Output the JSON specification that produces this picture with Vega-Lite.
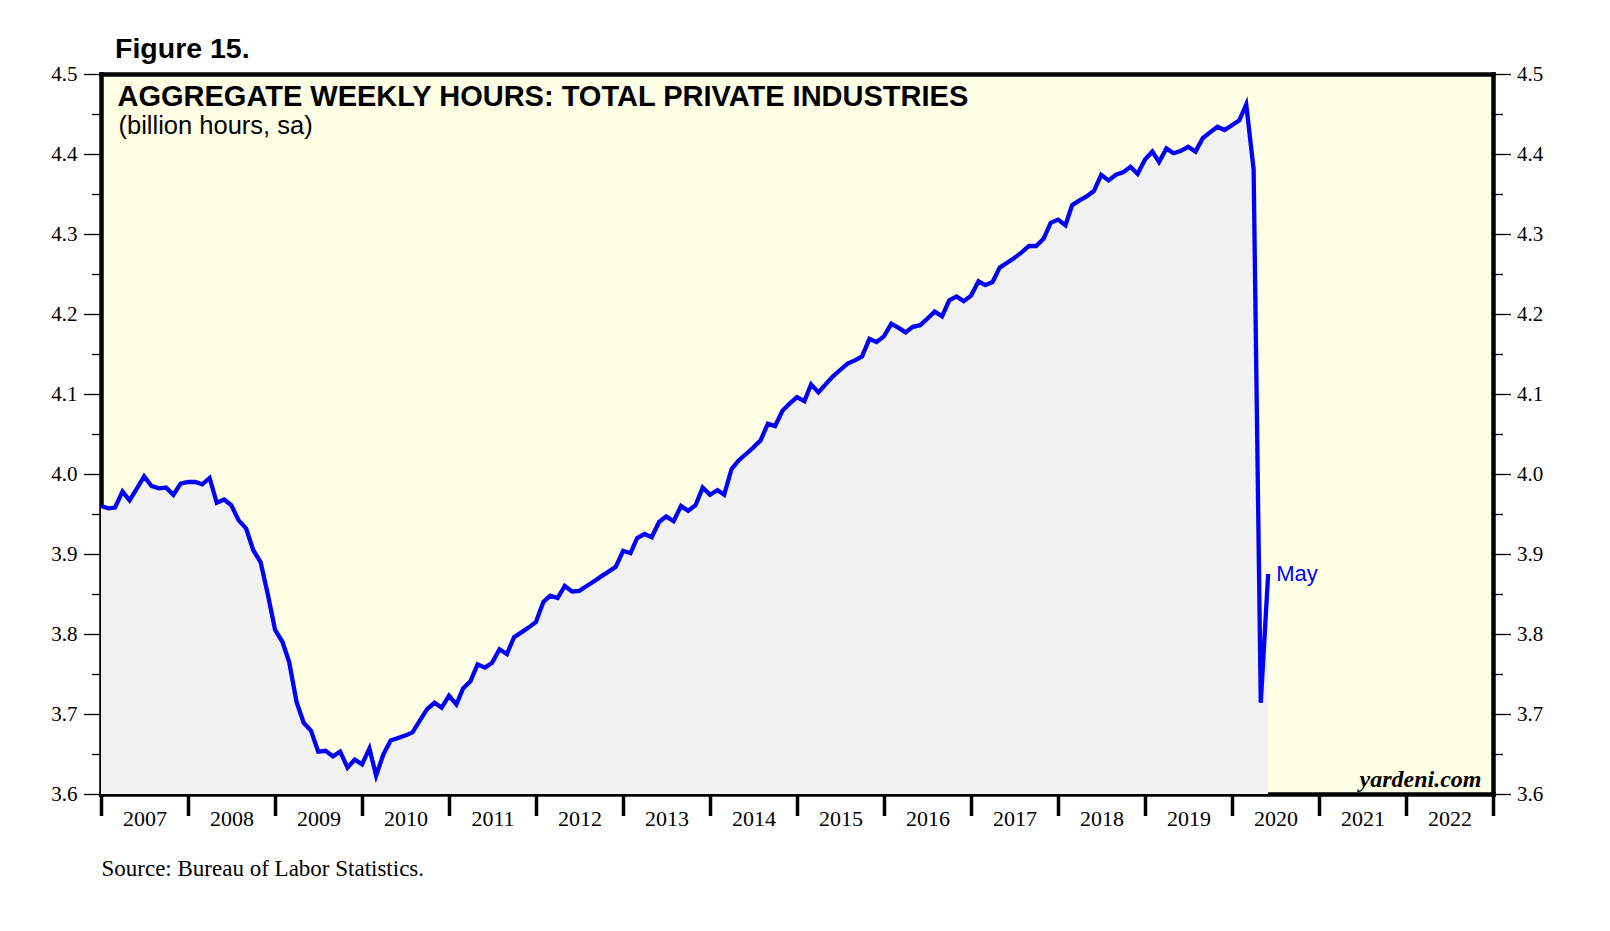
{
  "$schema": "https://vega.github.io/schema/vega-lite/v6.json",
  "width": 1392,
  "height": 720,
  "autosize": {"type": "none"},
  "padding": {"left": 101, "top": 74, "right": 117, "bottom": 137},
  "background": "white",
  "config": {
    "view": {"fill": "#FFFFE5", "stroke": null},
    "axis": {
      "zindex": 1,
      "grid": false,
      "domainColor": "black",
      "domainWidth": 4.5,
      "domainCap": "square",
      "tickColor": "black",
      "labelColor": "black",
      "labelFont": "Liberation Serif",
      "labelFontSize": 21,
      "titleColor": "black",
      "labelOverlap": false,
      "labelFlush": false
    }
  },
  "title": {
    "text": "Figure 15.",
    "anchor": "start",
    "frame": "group",
    "dx": 14,
    "offset": -0.5,
    "font": "Liberation Sans",
    "fontSize": 28.5,
    "fontWeight": "bold",
    "color": "black"
  },
  "data": {
    "values": [
      {"month": "2006-12", "value": 3.960},
      {"month": "2007-01", "value": 3.957},
      {"month": "2007-02", "value": 3.958},
      {"month": "2007-03", "value": 3.978},
      {"month": "2007-04", "value": 3.967},
      {"month": "2007-05", "value": 3.982},
      {"month": "2007-06", "value": 3.997},
      {"month": "2007-07", "value": 3.985},
      {"month": "2007-08", "value": 3.982},
      {"month": "2007-09", "value": 3.983},
      {"month": "2007-10", "value": 3.974},
      {"month": "2007-11", "value": 3.988},
      {"month": "2007-12", "value": 3.990},
      {"month": "2008-01", "value": 3.990},
      {"month": "2008-02", "value": 3.987},
      {"month": "2008-03", "value": 3.995},
      {"month": "2008-04", "value": 3.964},
      {"month": "2008-05", "value": 3.968},
      {"month": "2008-06", "value": 3.961},
      {"month": "2008-07", "value": 3.942},
      {"month": "2008-08", "value": 3.932},
      {"month": "2008-09", "value": 3.905},
      {"month": "2008-10", "value": 3.890},
      {"month": "2008-11", "value": 3.850},
      {"month": "2008-12", "value": 3.805},
      {"month": "2009-01", "value": 3.790},
      {"month": "2009-02", "value": 3.765},
      {"month": "2009-03", "value": 3.715},
      {"month": "2009-04", "value": 3.689},
      {"month": "2009-05", "value": 3.679},
      {"month": "2009-06", "value": 3.653},
      {"month": "2009-07", "value": 3.654},
      {"month": "2009-08", "value": 3.647},
      {"month": "2009-09", "value": 3.653},
      {"month": "2009-10", "value": 3.633},
      {"month": "2009-11", "value": 3.643},
      {"month": "2009-12", "value": 3.637},
      {"month": "2010-01", "value": 3.657},
      {"month": "2010-02", "value": 3.623},
      {"month": "2010-03", "value": 3.650},
      {"month": "2010-04", "value": 3.667},
      {"month": "2010-05", "value": 3.670},
      {"month": "2010-06", "value": 3.673},
      {"month": "2010-07", "value": 3.677},
      {"month": "2010-08", "value": 3.692},
      {"month": "2010-09", "value": 3.706},
      {"month": "2010-10", "value": 3.714},
      {"month": "2010-11", "value": 3.708},
      {"month": "2010-12", "value": 3.723},
      {"month": "2011-01", "value": 3.712},
      {"month": "2011-02", "value": 3.732},
      {"month": "2011-03", "value": 3.741},
      {"month": "2011-04", "value": 3.762},
      {"month": "2011-05", "value": 3.758},
      {"month": "2011-06", "value": 3.764},
      {"month": "2011-07", "value": 3.781},
      {"month": "2011-08", "value": 3.775},
      {"month": "2011-09", "value": 3.796},
      {"month": "2011-10", "value": 3.802},
      {"month": "2011-11", "value": 3.808},
      {"month": "2011-12", "value": 3.815},
      {"month": "2012-01", "value": 3.840},
      {"month": "2012-02", "value": 3.848},
      {"month": "2012-03", "value": 3.845},
      {"month": "2012-04", "value": 3.860},
      {"month": "2012-05", "value": 3.853},
      {"month": "2012-06", "value": 3.854},
      {"month": "2012-07", "value": 3.860},
      {"month": "2012-08", "value": 3.866},
      {"month": "2012-09", "value": 3.872},
      {"month": "2012-10", "value": 3.878},
      {"month": "2012-11", "value": 3.884},
      {"month": "2012-12", "value": 3.904},
      {"month": "2013-01", "value": 3.901},
      {"month": "2013-02", "value": 3.920},
      {"month": "2013-03", "value": 3.925},
      {"month": "2013-04", "value": 3.921},
      {"month": "2013-05", "value": 3.940},
      {"month": "2013-06", "value": 3.947},
      {"month": "2013-07", "value": 3.941},
      {"month": "2013-08", "value": 3.960},
      {"month": "2013-09", "value": 3.954},
      {"month": "2013-10", "value": 3.961},
      {"month": "2013-11", "value": 3.983},
      {"month": "2013-12", "value": 3.974},
      {"month": "2014-01", "value": 3.980},
      {"month": "2014-02", "value": 3.974},
      {"month": "2014-03", "value": 4.006},
      {"month": "2014-04", "value": 4.017},
      {"month": "2014-05", "value": 4.025},
      {"month": "2014-06", "value": 4.033},
      {"month": "2014-07", "value": 4.042},
      {"month": "2014-08", "value": 4.063},
      {"month": "2014-09", "value": 4.060},
      {"month": "2014-10", "value": 4.079},
      {"month": "2014-11", "value": 4.088},
      {"month": "2014-12", "value": 4.096},
      {"month": "2015-01", "value": 4.091},
      {"month": "2015-02", "value": 4.112},
      {"month": "2015-03", "value": 4.102},
      {"month": "2015-04", "value": 4.112},
      {"month": "2015-05", "value": 4.122},
      {"month": "2015-06", "value": 4.130},
      {"month": "2015-07", "value": 4.138},
      {"month": "2015-08", "value": 4.142},
      {"month": "2015-09", "value": 4.147},
      {"month": "2015-10", "value": 4.169},
      {"month": "2015-11", "value": 4.165},
      {"month": "2015-12", "value": 4.172},
      {"month": "2016-01", "value": 4.188},
      {"month": "2016-02", "value": 4.183},
      {"month": "2016-03", "value": 4.177},
      {"month": "2016-04", "value": 4.184},
      {"month": "2016-05", "value": 4.186},
      {"month": "2016-06", "value": 4.194},
      {"month": "2016-07", "value": 4.203},
      {"month": "2016-08", "value": 4.197},
      {"month": "2016-09", "value": 4.217},
      {"month": "2016-10", "value": 4.222},
      {"month": "2016-11", "value": 4.216},
      {"month": "2016-12", "value": 4.223},
      {"month": "2017-01", "value": 4.241},
      {"month": "2017-02", "value": 4.236},
      {"month": "2017-03", "value": 4.240},
      {"month": "2017-04", "value": 4.258},
      {"month": "2017-05", "value": 4.264},
      {"month": "2017-06", "value": 4.270},
      {"month": "2017-07", "value": 4.277},
      {"month": "2017-08", "value": 4.285},
      {"month": "2017-09", "value": 4.285},
      {"month": "2017-10", "value": 4.294},
      {"month": "2017-11", "value": 4.314},
      {"month": "2017-12", "value": 4.318},
      {"month": "2018-01", "value": 4.311},
      {"month": "2018-02", "value": 4.336},
      {"month": "2018-03", "value": 4.342},
      {"month": "2018-04", "value": 4.347},
      {"month": "2018-05", "value": 4.354},
      {"month": "2018-06", "value": 4.374},
      {"month": "2018-07", "value": 4.367},
      {"month": "2018-08", "value": 4.374},
      {"month": "2018-09", "value": 4.377},
      {"month": "2018-10", "value": 4.384},
      {"month": "2018-11", "value": 4.375},
      {"month": "2018-12", "value": 4.393},
      {"month": "2019-01", "value": 4.403},
      {"month": "2019-02", "value": 4.390},
      {"month": "2019-03", "value": 4.407},
      {"month": "2019-04", "value": 4.401},
      {"month": "2019-05", "value": 4.404},
      {"month": "2019-06", "value": 4.409},
      {"month": "2019-07", "value": 4.403},
      {"month": "2019-08", "value": 4.420},
      {"month": "2019-09", "value": 4.427},
      {"month": "2019-10", "value": 4.434},
      {"month": "2019-11", "value": 4.430},
      {"month": "2019-12", "value": 4.436},
      {"month": "2020-01", "value": 4.442},
      {"month": "2020-02", "value": 4.462},
      {"month": "2020-03", "value": 4.381},
      {"month": "2020-04", "value": 3.714},
      {"month": "2020-05", "value": 3.875, "label": "May"}
    ]
  },
  "layer": [
    {
      "mark": {"type": "area", "color": "#F2F2F2", "opacity": 1},
      "encoding": {
        "x": {
          "field": "month",
          "type": "temporal",
          "timeUnit": "utcyearmonth",
          "bandPosition": 1,
          "scale": {
            "type": "utc",
            "nice": false,
            "domain": [
              {"year": 2007, "month": 1, "date": 1, "utc": true},
              {"year": 2023, "month": 1, "date": 1, "utc": true}
            ]
          },
          "axis": {
            "orient": "bottom",
            "values": [
              {"year": 2007, "month": 1, "date": 1, "utc": true},
              {"year": 2008, "month": 1, "date": 1, "utc": true},
              {"year": 2009, "month": 1, "date": 1, "utc": true},
              {"year": 2010, "month": 1, "date": 1, "utc": true},
              {"year": 2011, "month": 1, "date": 1, "utc": true},
              {"year": 2012, "month": 1, "date": 1, "utc": true},
              {"year": 2013, "month": 1, "date": 1, "utc": true},
              {"year": 2014, "month": 1, "date": 1, "utc": true},
              {"year": 2015, "month": 1, "date": 1, "utc": true},
              {"year": 2016, "month": 1, "date": 1, "utc": true},
              {"year": 2017, "month": 1, "date": 1, "utc": true},
              {"year": 2018, "month": 1, "date": 1, "utc": true},
              {"year": 2019, "month": 1, "date": 1, "utc": true},
              {"year": 2020, "month": 1, "date": 1, "utc": true},
              {"year": 2021, "month": 1, "date": 1, "utc": true},
              {"year": 2022, "month": 1, "date": 1, "utc": true},
              {"year": 2023, "month": 1, "date": 1, "utc": true}
            ],
            "tickSize": 21.5,
            "tickWidth": 3.5,
            "labelExpr": "utcyear(datum.value) >= 2023 ? '' : utcFormat(datum.value, '%Y')",
            "labelOffset": 43.5,
            "labelPadding": -7,
            "labelFontSize": 22,
            "labelBound": false,
            "title": "Source: Bureau of Labor Statistics.",
            "titleX": 0,
            "titleY": 81.5,
            "titleAlign": "left",
            "titleAnchor": "start",
            "titleBaseline": "alphabetic",
            "titleFont": "Liberation Serif",
            "titleFontSize": 23,
            "titleFontWeight": "normal"
          }
        },
        "y": {
          "field": "value",
          "type": "quantitative",
          "scale": {"domain": [3.6, 4.5], "nice": false, "zero": false},
          "axis": {
            "orient": "left",
            "values": [3.6, 3.65, 3.7, 3.75, 3.8, 3.85, 3.9, 3.95, 4.0, 4.05, 4.1, 4.15, 4.2, 4.25, 4.3, 4.35, 4.4, 4.45, 4.5],
            "tickSize": {"condition": {"test": "round(datum.value*20) % 2 == 0", "value": 17.5}, "value": 9.5},
            "tickWidth": 1.3,
            "labelExpr": "round(datum.value*20) % 2 == 0 ? format(datum.value, '.1f') : ''",
            "labelPadding": 6.5,
            "title": "(billion hours, sa)",
            "titleX": 17,
            "titleY": 59.5,
            "titleAngle": 0,
            "titleAlign": "left",
            "titleAnchor": "start",
            "titleBaseline": "alphabetic",
            "titleFont": "Liberation Sans",
            "titleFontSize": 25.5,
            "titleFontWeight": "normal"
          }
        },
        "y2": {"datum": 3.6}
      }
    },
    {
      "mark": {"type": "line", "color": "#0000FF", "strokeWidth": 4.3},
      "encoding": {
        "x": {
          "field": "month",
          "type": "temporal",
          "timeUnit": "utcyearmonth",
          "bandPosition": 1,
          "scale": {
            "type": "utc",
            "nice": false,
            "domain": [
              {"year": 2007, "month": 1, "date": 1, "utc": true},
              {"year": 2023, "month": 1, "date": 1, "utc": true}
            ]
          },
          "axis": {
            "orient": "top",
            "ticks": false,
            "labels": false,
            "domain": true,
            "title": "AGGREGATE WEEKLY HOURS: TOTAL PRIVATE INDUSTRIES",
            "titleX": 16,
            "titleY": 31,
            "titleAlign": "left",
            "titleAnchor": "start",
            "titleBaseline": "alphabetic",
            "titleFont": "Liberation Sans",
            "titleFontSize": 29,
            "titleFontWeight": "bold"
          }
        },
        "y": {
          "field": "value",
          "type": "quantitative",
          "scale": {"domain": [3.6, 4.5], "nice": false, "zero": false},
          "axis": {
            "orient": "right",
            "values": [3.6, 3.65, 3.7, 3.75, 3.8, 3.85, 3.9, 3.95, 4.0, 4.05, 4.1, 4.15, 4.2, 4.25, 4.3, 4.35, 4.4, 4.45, 4.5],
            "tickSize": {"condition": {"test": "round(datum.value*20) % 2 == 0", "value": 17.5}, "value": 9.5},
            "tickWidth": 1.3,
            "labelExpr": "round(datum.value*20) % 2 == 0 ? format(datum.value, '.1f') : ''",
            "labelPadding": 6,
            "title": "yardeni.com",
            "titleX": -12,
            "titleY": 712.5,
            "titleAngle": 0,
            "titleAlign": "right",
            "titleAnchor": "end",
            "titleBaseline": "alphabetic",
            "titleFont": "Liberation Serif",
            "titleFontSize": 24,
            "titleFontWeight": "bold",
            "titleFontStyle": "italic"
          }
        }
      }
    },
    {
      "transform": [{"filter": "datum.label != null"}],
      "mark": {"type": "text", "align": "left", "baseline": "middle", "dx": 8, "font": "Liberation Sans", "fontSize": 22, "color": "#0000FF"},
      "encoding": {
        "x": {
          "field": "month",
          "type": "temporal",
          "timeUnit": "utcyearmonth",
          "bandPosition": 1,
          "axis": null
        },
        "y": {"field": "value", "type": "quantitative", "axis": null},
        "text": {"field": "label"}
      }
    }
  ],
  "resolve": {"axis": {"x": "independent", "y": "independent"}}
}
